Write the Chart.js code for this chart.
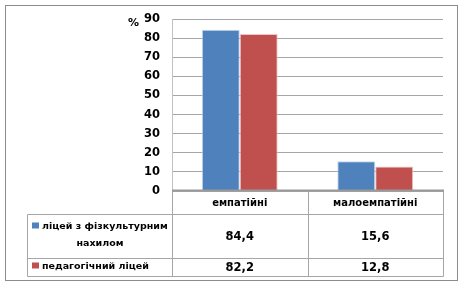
<!DOCTYPE html>
<html>
<head>
<meta charset="utf-8">
<script src="https://cdn.jsdelivr.net/npm/chart.js@4"></script>
<style>
  html, body { margin: 0; padding: 0; background: #fff; }
  canvas { display: block; }
</style>
</head>
<body>
<canvas id="c" width="463" height="288"></canvas>
<script>
const categories = ['емпатійні', 'малоемпатійні'];
const seriesNames = ['ліцей з фізкультурним нахилом', 'педагогічний ліцей'];
const seriesLine1 = ['ліцей з фізкультурним', 'педагогічний ліцей'];
const seriesLine2 = ['нахилом', ''];
const lyceumPE = [84.4, 15.6];
const pedLyceum = [82.2, 12.8];
const valueLabels = [['84,4', '15,6'], ['82,2', '12,8']];
const colors = ['#4F81BD', '#C0504D'];
const yMin = 0, yMax = 90, yStep = 10;
const yUnit = '%';

const FONT = '"DejaVu Sans", sans-serif';

const tablePlugin = {
  id: 'tablePlugin',
  beforeDraw(chart) {
    const ctx = chart.ctx;
    ctx.save();
    ctx.fillStyle = '#fff';
    ctx.fillRect(0, 0, chart.width, chart.height);
    ctx.strokeStyle = '#8c8c8c';
    ctx.lineWidth = 1;
    ctx.strokeRect(5.5, 5.5, 452, 275);
    ctx.restore();
  },
  afterDraw(chart) {
    const ctx = chart.ctx;
    const xs = chart.scales.x;
    const area = chart.chartArea;
    const left = Math.round(area.left) + 0.5;
    const right = Math.round(area.right) + 0.5;
    const mid = Math.round((xs.getPixelForValue(0) + xs.getPixelForValue(1)) / 2) + 0.5;
    const tableLeft = 27.5;
    const y0 = Math.round(area.bottom) - 0.5;
    const yCat = y0 + 24;
    const yRow1 = yCat + 44;
    const yRow2 = yRow1 + 18;

    ctx.save();
    ctx.strokeStyle = '#a6a6a6';
    ctx.lineWidth = 1;
    ctx.beginPath();
    ctx.moveTo(tableLeft, yCat); ctx.lineTo(right, yCat);
    ctx.moveTo(tableLeft, yRow1); ctx.lineTo(right, yRow1);
    ctx.moveTo(tableLeft, yRow2); ctx.lineTo(right, yRow2);
    ctx.moveTo(left, y0); ctx.lineTo(left, yRow2);
    ctx.moveTo(mid, y0); ctx.lineTo(mid, yRow2);
    ctx.moveTo(right, y0); ctx.lineTo(right, yRow2);
    ctx.moveTo(tableLeft, yCat); ctx.lineTo(tableLeft, yRow2);
    ctx.stroke();
    // axis line at 0
    ctx.strokeStyle = '#999';
    ctx.lineWidth = 2;
    ctx.beginPath();
    ctx.moveTo(left - 0.5, y0); ctx.lineTo(right + 0.5, y0);
    ctx.stroke();

    ctx.fillStyle = '#000';
    ctx.font = 'bold 10px ' + FONT;
    ctx.textBaseline = 'middle';
    ctx.textAlign = 'center';
    categories.forEach((c, i) => {
      ctx.fillText(c, xs.getPixelForValue(i), y0 + 13);
    });
    // values
    ctx.font = 'bold 11.5px ' + FONT;
    const rowMid = [(yCat + yRow1) / 2, (yRow1 + yRow2) / 2];
    valueLabels.forEach((row, r) => {
      row.forEach((v, i) => {
        ctx.fillText(v, xs.getPixelForValue(i), rowMid[r] + 1);
      });
    });
    // legend cells
    ctx.font = 'bold 9.5px ' + FONT;
    const cellCenter = (tableLeft + left) / 2;
    ctx.textAlign = 'left';
    ctx.fillStyle = colors[0];
    ctx.fillRect(32, yCat + 8, 7, 6);
    ctx.fillStyle = '#000';
    ctx.fillText(seriesLine1[0], 42, yCat + 12);
    ctx.textAlign = 'center';
    ctx.fillText(seriesLine2[0], cellCenter, yCat + 29);
    ctx.fillStyle = colors[1];
    ctx.fillRect(32, yRow1 + 4, 7, 6);
    ctx.fillStyle = '#000';
    ctx.textAlign = 'left';
    ctx.fillText(seriesLine1[1], 42, yRow1 + 8);

    // unit label
    ctx.font = 'bold 11px ' + FONT;
    ctx.textAlign = 'right';
    ctx.fillText(yUnit, 139, area.top + 4);
    ctx.restore();
  }
};

new Chart(document.getElementById('c'), {
  type: 'bar',
  data: {
    labels: categories,
    datasets: [
      { label: seriesNames[0], data: lyceumPE, backgroundColor: colors[0],
        borderWidth: 1, borderColor: 'rgba(190,210,235,0.9)',
        categoryPercentage: 0.56, barPercentage: 1.0 },
      { label: seriesNames[1], data: pedLyceum, backgroundColor: colors[1],
        borderWidth: 1, borderColor: 'rgba(235,190,190,0.9)',
        categoryPercentage: 0.56, barPercentage: 1.0 }
    ]
  },
  options: {
    responsive: false,
    animation: false,
    devicePixelRatio: 1,
    layout: { padding: { top: 19, right: 20, bottom: 97, left: 0 } },
    plugins: { legend: { display: false }, tooltip: { enabled: false } },
    scales: {
      x: { display: false },
      y: {
        min: yMin, max: yMax,
        ticks: { stepSize: yStep, color: '#000', font: { family: FONT, size: 11.5, weight: 'bold' }, padding: 12 },
        grid: { color: '#a6a6a6', drawTicks: false },
        border: { display: true, color: '#c0c0c0' },
        afterFit(scale) { scale.width = 172; }
      }
    }
  },
  plugins: [tablePlugin]
});
</script>
</body>
</html>
